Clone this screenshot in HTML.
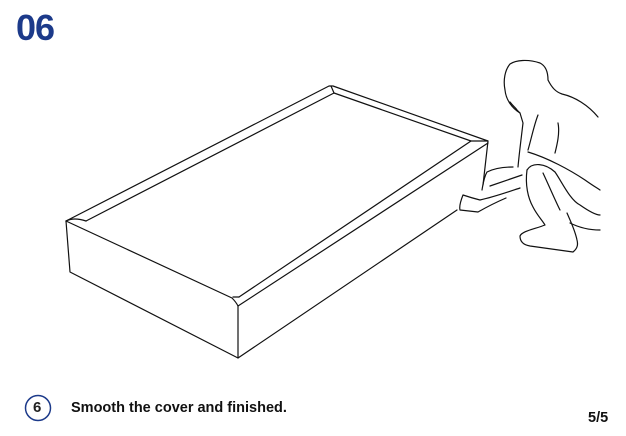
<!DOCTYPE html>
<html><head><style>
body{margin:0;width:626px;height:436px;background:#fff;position:relative;overflow:hidden;font-family:"Liberation Sans",sans-serif}
.t{position:absolute;color:#1c3a8a;font-weight:bold}
</style></head><body>
<div class="t" style="left:16px;top:7px;font-size:36px;letter-spacing:-1px">06</div>
<svg width="626" height="436" style="position:absolute;left:0;top:0" fill="none" stroke="#111" stroke-width="1.2" stroke-linejoin="round" stroke-linecap="round">
<!-- box -->
<path d="M66,221 L329,86 L333,86 L488,141 L483,185"/>
<path d="M66,221 L232,298 C235,301 237,304 238,306 L488,143"/>
<path d="M86,221 L334,93 L471,141 L239,297"/>
<path d="M66,221 C72,218 80,219 86,221 M331,86 L334,93 M488,141 L471,141 M233,297 L239,297"/>
<path d="M66,221 L70,272 L238,358 L457,210"/>
<path d="M238,306 L238,358"/>
<!-- person -->
<path d="M520,113 C512,108 506,100 505,90 C503,80 505,70 510,64 C516,60 528,59 540,63 C546,66 548,72 548,80 C552,88 556,92 562,94 C575,97 588,105 598,117"/>
<path d="M510,102 C513,106 516,108 517,110 L520,113 L523,123 C521,140 519,155 518,167"/>
<path d="M538,115 C534,125 531,140 528,150 M558,123 C560,133 557,145 555,153"/>
<path d="M528,152 C548,158 570,170 585,180 C592,185 597,188 600,190"/>
<path d="M527,170 C532,162 545,163 555,172 C562,182 570,200 580,205 C590,212 597,215 600,215"/>
<path d="M527,170 C525,185 528,198 533,207 C537,215 542,220 545,225 C535,229 522,231 520,236 C520,242 524,245 530,246 L573,252 C578,248 578,244 577,240 C575,230 570,220 567,213"/>
<path d="M543,173 C550,188 555,200 560,210"/>
<path d="M570,223 C580,228 590,230 600,230"/>
<path d="M513,167 C505,167 495,168 487,172 C484,177 483,184 482,190 M522,175 L490,186"/>
<path d="M520,188 C508,192 494,197 480,200 C472,198 466,196 463,195 C461,200 459,206 460,210 L478,212 C485,208 492,204 506,198"/>
</svg>
<svg width="626" height="436" style="position:absolute;left:0;top:0">
<circle cx="38" cy="408" r="12.5" fill="none" stroke="#1c3a8a" stroke-width="1.5"/>
</svg>
<div style="position:absolute;left:33px;top:399px;font-size:15px;font-weight:bold;color:#222">6</div>
<div style="position:absolute;left:71px;top:400px;font-size:14.5px;font-weight:bold;color:#111">Smooth the cover and finished.</div>
<div style="position:absolute;left:588px;top:410px;font-size:14.5px;font-weight:bold;color:#111">5/5</div>
</body></html>
